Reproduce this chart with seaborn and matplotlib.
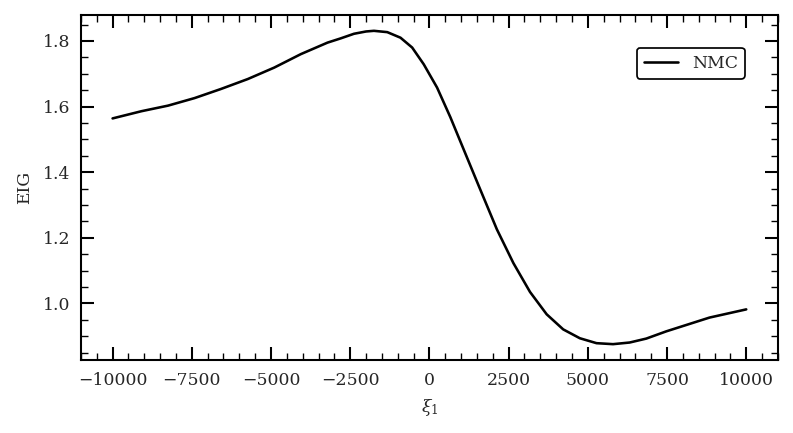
import pandas as pd
import seaborn as sns
import matplotlib.pyplot as plt
from matplotlib.ticker import MultipleLocator

# values
xi = [-10000, -9088, -8249, -7411, -6572, -5733, -4896, -4057, -3217, -2799,
      -2381, -2000, -1751, -1330, -912, -544, -179, 242, 660, 1079,
      1550, 2129, 2651, 3176, 3701, 4223, 4748, 5274, 5796, 6321,
      6846, 7475, 8840, 10000]
eig = [1.564, 1.586, 1.603, 1.626, 1.654, 1.684, 1.719, 1.760, 1.795, 1.808,
       1.822, 1.829, 1.831, 1.827, 1.810, 1.780, 1.729, 1.658, 1.568, 1.470,
       1.360, 1.226, 1.123, 1.035, 0.967, 0.921, 0.894, 0.879, 0.876, 0.881,
       0.893, 0.915, 0.957, 0.982]
method = 'NMC'

df = pd.DataFrame({'xi': xi, 'EIG': eig, 'Method': method})

sns.set_style('ticks')
plt.rcParams['font.family'] = ['DejaVu Serif']
plt.rcParams['mathtext.fontset'] = 'dejavuserif'

dpi = 124
fig, ax = plt.subplots(figsize=(793 / dpi, 433 / dpi), dpi=dpi)
fig.subplots_adjust(left=0.102, right=0.981, top=0.965, bottom=0.169)

sns.lineplot(data=df, x='xi', y='EIG', color='black', linewidth=1.5,
             label=method, ax=ax)

ax.set_xlabel(r'$\xi_1$', fontsize=10, labelpad=5)
ax.set_ylabel('EIG', fontsize=10, labelpad=6)

ax.xaxis.set_major_locator(MultipleLocator(2500))
ax.xaxis.set_minor_locator(MultipleLocator(500))
ax.yaxis.set_major_locator(MultipleLocator(0.2))
ax.yaxis.set_minor_locator(MultipleLocator(0.05))
ax.tick_params(which='both', direction='in', top=True, right=True,
               labelsize=10, color='black')
ax.tick_params(axis='x', which='major', pad=7)
ax.tick_params(axis='y', which='major', pad=6)
ax.tick_params(which='major', length=7.5, width=1.2)
ax.tick_params(which='minor', length=4, width=0.8)
for sp in ax.spines.values():
    sp.set_linewidth(1.2)
    sp.set_color('black')

leg = ax.legend(loc='upper right', bbox_to_anchor=(0.965, 0.93), fontsize=10,
                fancybox=True, framealpha=1)
leg.get_frame().set_edgecolor('black')

fig.savefig('out.png', dpi=dpi)
